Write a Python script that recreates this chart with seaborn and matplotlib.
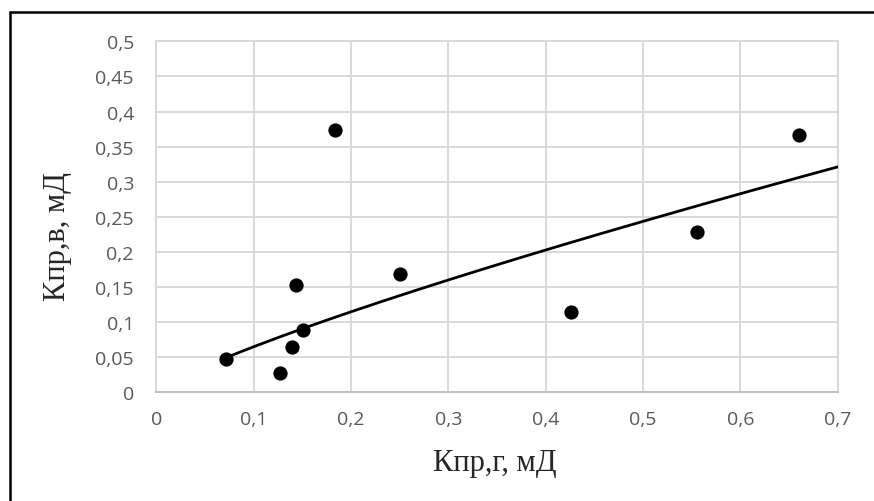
import numpy as np
import pandas as pd
import matplotlib
matplotlib.use("Agg")
import matplotlib.pyplot as plt
import seaborn as sns
from matplotlib.lines import Line2D

# Gas permeability (x) vs water permeability (y), mD
k_gas = [0.072, 0.127, 0.140, 0.144, 0.151, 0.184, 0.250, 0.426, 0.555, 0.660]
k_water = [0.047, 0.027, 0.065, 0.153, 0.089, 0.373, 0.168, 0.115, 0.229, 0.367]

x_ticks = [0, 0.1, 0.2, 0.3, 0.4, 0.5, 0.6, 0.7]
y_ticks = [0, 0.05, 0.1, 0.15, 0.2, 0.25, 0.3, 0.35, 0.4, 0.45, 0.5]

x_label = "Кпр,г, мД"
y_label = "Кпр,в, мД"

df = pd.DataFrame({"kg": k_gas, "kw": k_water})

# power-law trend  y = a * x^b  fitted in log-log space
b, ln_a = np.polyfit(np.log(df["kg"]), np.log(df["kw"]), 1)
trend_x = np.linspace(df["kg"].min(), 0.7, 200)
trend = pd.DataFrame({"kg": trend_x, "kw": np.exp(ln_a) * trend_x ** b})

sns.set_theme(style="white")
fig = plt.figure(figsize=(8.74, 5.02), dpi=100)
ax = fig.add_axes([0.1787, 0.2165, 0.7798, 0.6992])

grid_c = "#d9d9d9"
ax.set_xlim(0, 0.7)
ax.set_ylim(0, 0.5)
ax.set_xticks(x_ticks)
ax.set_yticks(y_ticks)
ax.grid(True, color=grid_c, linewidth=1.4)
ax.set_axisbelow(True)
for side in ["left", "right", "top"]:
    ax.spines[side].set_color(grid_c)
    ax.spines[side].set_linewidth(1.4)
ax.spines["bottom"].set_color("#bfbfbf")
ax.spines["bottom"].set_linewidth(1.4)

sns.lineplot(data=trend, x="kg", y="kw", ax=ax, color="black", linewidth=2.0,
             zorder=3)
sns.scatterplot(data=df, x="kg", y="kw", ax=ax, color="black", s=105,
                edgecolor="black", linewidth=0, zorder=4)

def fmt(v):
    s = f"{v:.2f}".rstrip("0").rstrip(".")
    return s.replace(".", ",")

ax.set_xticklabels([fmt(v) for v in x_ticks])
ax.set_yticklabels([fmt(v) for v in y_ticks])
ax.tick_params(axis="both", length=0, labelsize=14, labelcolor="#595959")
ax.tick_params(axis="y", pad=16)
ax.tick_params(axis="x", pad=13)
for lab in ax.get_xticklabels() + ax.get_yticklabels():
    lab.set_family(["Open Sans", "DejaVu Sans"])

ax.set_xlabel("")
ax.set_ylabel("")
fig.text(0.566, 1 - 471 / 502, x_label, ha="center", va="baseline",
         fontsize=22, family=["Liberation Serif", "DejaVu Serif"],
         color="#262626")
fig.text(0.066, 0.528, y_label, ha="center", va="center", fontsize=22,
         rotation=90, family=["Liberation Serif", "DejaVu Serif"],
         color="#262626")

# chart frame (top and left edges)
fig.add_artist(Line2D([10 / 874, 1.0], [1 - 12.5 / 502, 1 - 12.5 / 502],
                      transform=fig.transFigure, color="black", linewidth=1.8))
fig.add_artist(Line2D([10 / 874, 10 / 874], [0.0, 1 - 12.5 / 502],
                      transform=fig.transFigure, color="black", linewidth=1.8))

fig.savefig("out.png", dpi=100)
